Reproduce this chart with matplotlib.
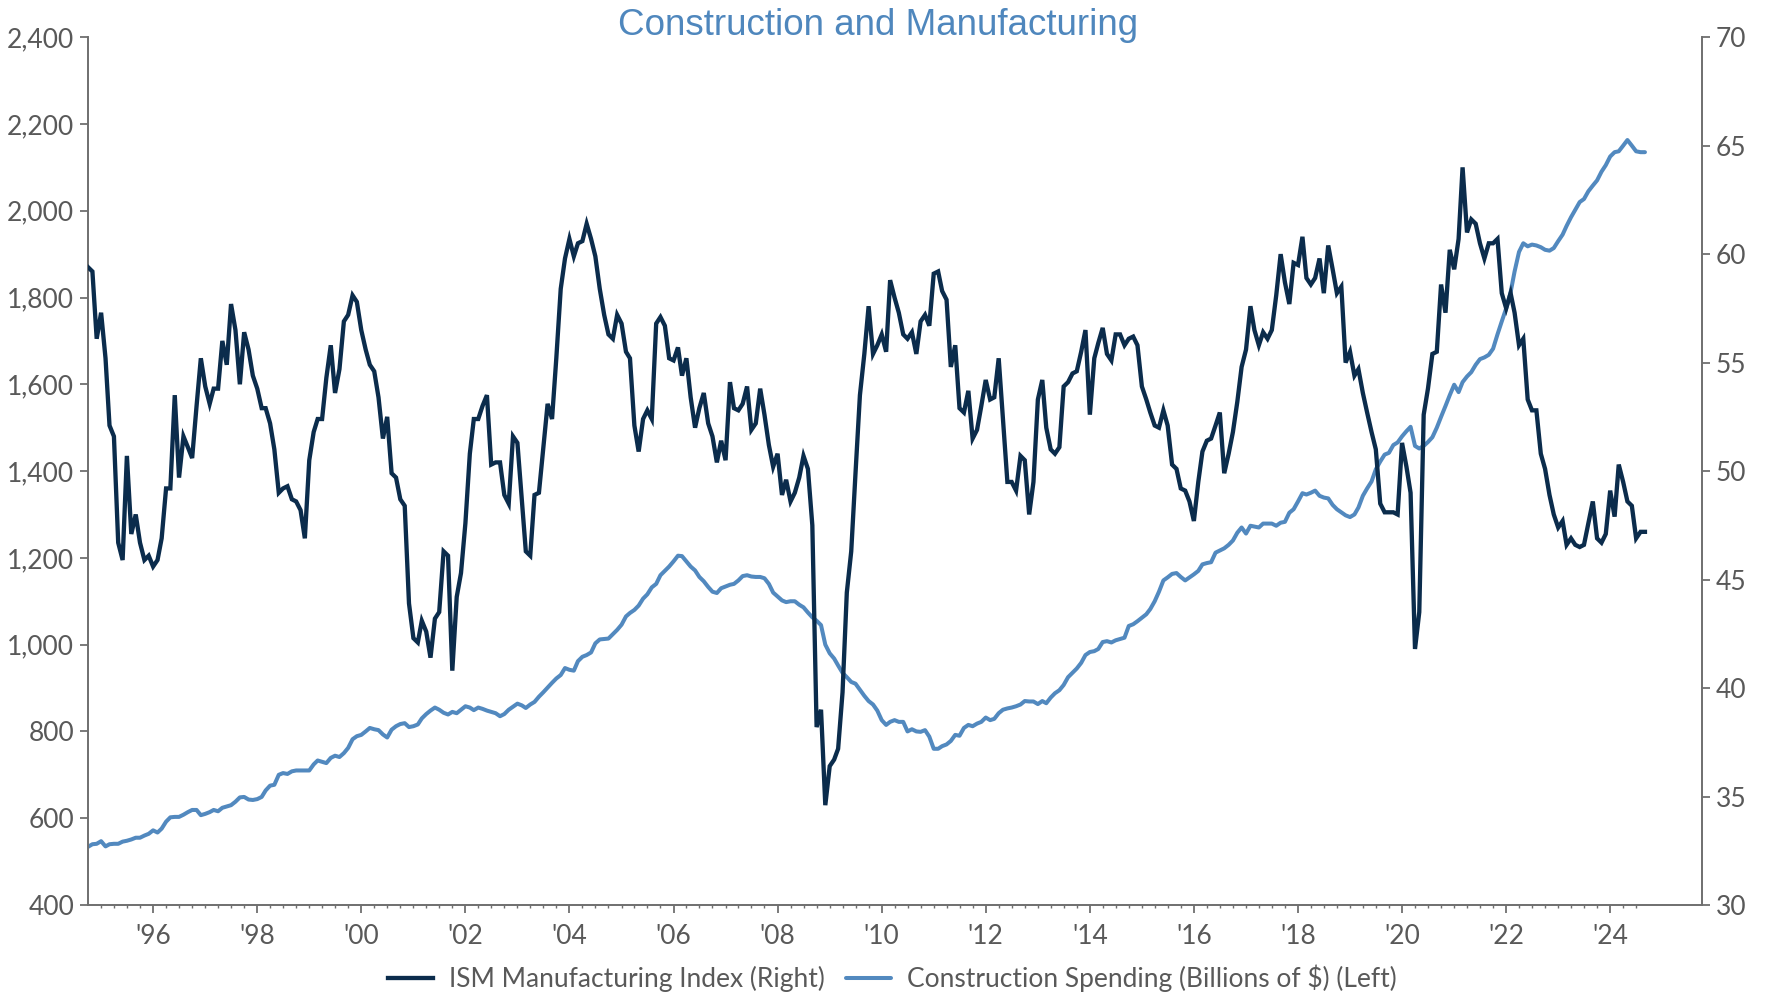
import matplotlib
matplotlib.use("Agg")
import matplotlib.pyplot as plt
import matplotlib.dates as mdates
from matplotlib.ticker import FuncFormatter, MultipleLocator, FixedLocator
import pandas as pd

plt.rcParams["font.family"] = ["Lato", "DejaVu Sans"]

# monthly series, first value = Oct 1994, last = Sep 2024
START_MONTH = "1994-10-01"

ism_index = [
    59.4, 59.2, 56.1,  # 1994 (Oct-Dec)
    57.3, 55.2, 52.1, 51.6, 46.7, 45.9, 50.7, 47.1, 48.0, 46.7, 45.9, 46.1,  # 1995
    45.6, 45.9, 46.9, 49.2, 49.2, 53.5, 49.7, 51.6, 51.1, 50.6, 53.0, 55.2,  # 1996
    53.9, 53.1, 53.8, 53.8, 56.0, 54.9, 57.7, 56.5, 54.0, 56.4, 55.6, 54.4,  # 1997
    53.8, 52.9, 52.9, 52.2, 51.0, 49.0, 49.2, 49.3, 48.7, 48.6, 48.2, 46.9,  # 1998
    50.5, 51.8, 52.4, 52.4, 54.3, 55.8, 53.6, 54.7, 56.9, 57.2, 58.1, 57.8,  # 1999
    56.5, 55.6, 54.9, 54.6, 53.4, 51.5, 52.5, 49.9, 49.7, 48.7, 48.4, 43.9,  # 2000
    42.3, 42.1, 43.1, 42.6, 41.4, 43.2, 43.5, 46.3, 46.1, 40.8, 44.2, 45.3,  # 2001
    47.6, 50.8, 52.4, 52.4, 53.0, 53.5, 50.3, 50.4, 50.4, 48.9, 48.5, 51.6,  # 2002
    51.3, 48.7, 46.3, 46.1, 48.9, 49.0, 51.0, 53.1, 52.4, 55.2, 58.4, 59.8,  # 2003
    60.7, 59.9, 60.5, 60.6, 61.4, 60.7, 59.9, 58.4, 57.2, 56.3, 56.1, 57.2,  # 2004
    56.8, 55.5, 55.2, 52.1, 50.9, 52.4, 52.8, 52.4, 56.8, 57.1, 56.7, 55.2,  # 2005
    55.1, 55.7, 54.4, 55.2, 53.4, 52.0, 52.9, 53.6, 52.2, 51.6, 50.4, 51.4,  # 2006
    50.5, 54.1, 52.9, 52.8, 53.1, 53.9, 51.9, 52.2, 53.8, 52.6, 51.2, 50.2,  # 2007
    50.8, 48.9, 49.6, 48.6, 49.0, 49.7, 50.7, 50.1, 47.5, 38.2, 39.0, 34.6,  # 2008
    36.4, 36.7, 37.2, 39.8, 44.4, 46.3, 49.9, 53.5, 55.4, 57.6, 55.4, 55.8,  # 2009
    56.3, 55.5, 58.8, 58.0, 57.3, 56.3, 56.1, 56.4, 55.4, 56.9, 57.2, 56.7,  # 2010
    59.1, 59.2, 58.3, 57.9, 54.8, 55.8, 52.9, 52.7, 53.7, 51.5, 51.9, 53.0,  # 2011
    54.2, 53.3, 53.4, 55.2, 52.4, 49.5, 49.5, 49.1, 50.7, 50.5, 48.0, 49.5,  # 2012
    53.3, 54.2, 52.0, 51.0, 50.8, 51.1, 53.9, 54.1, 54.5, 54.6, 55.5, 56.5,  # 2013
    52.6, 55.2, 55.9, 56.6, 55.4, 55.1, 56.3, 56.3, 55.8, 56.1, 56.2, 55.8,  # 2014
    53.9, 53.3, 52.7, 52.1, 52.0, 52.8, 52.1, 50.3, 50.1, 49.2, 49.1, 48.6,  # 2015
    47.7, 49.5, 50.9, 51.4, 51.5, 52.1, 52.7, 49.9, 50.8, 51.8, 53.2, 54.8,  # 2016
    55.6, 57.6, 56.5, 55.8, 56.4, 56.1, 56.5, 58.1, 60.0, 58.7, 57.7, 59.6,  # 2017
    59.5, 60.8, 58.9, 58.6, 58.9, 59.8, 58.2, 60.4, 59.3, 58.2, 58.5, 55.0,  # 2018
    55.5, 54.4, 54.7, 53.6, 52.7, 51.8, 51.0, 48.5, 48.1, 48.1, 48.1, 48.0,  # 2019
    51.3, 50.2, 49.0, 41.8, 43.5, 52.6, 53.8, 55.4, 55.5, 58.6, 57.3, 60.2,  # 2020
    59.3, 60.7, 64.0, 61.0, 61.6, 61.4, 60.5, 59.8, 60.5, 60.5, 60.7, 58.2,  # 2021
    57.5, 58.2, 57.3, 55.8, 56.1, 53.3, 52.8, 52.8, 50.8, 50.1, 48.9, 48.0,  # 2022
    47.4, 47.7, 46.6, 46.9, 46.6, 46.5, 46.6, 47.6, 48.6, 46.9, 46.7, 47.1,  # 2023
    49.1, 47.9, 50.3, 49.5, 48.6, 48.4, 46.9, 47.2, 47.2,  # 2024 (Jan-Sep)
]

construction = [
    534, 540, 541,  # 1994 (Oct-Dec)
    547, 535, 540, 541, 541, 546, 548, 551, 555, 555, 560, 564,  # 1995
    572, 567, 576, 592, 602, 603, 603, 608, 614, 619, 619, 607,  # 1996
    610, 614, 619, 616, 624, 627, 630, 638, 648, 649, 643, 642,  # 1997
    644, 649, 664, 675, 677, 700, 704, 702, 708, 710, 710, 710,  # 1998
    710, 724, 733, 730, 727, 739, 744, 741, 750, 762, 782, 789,  # 1999
    792, 800, 808, 805, 803, 793, 786, 804, 812, 817, 819, 810,  # 2000
    812, 816, 830, 840, 848, 855, 850, 843, 839, 845, 842, 850,  # 2001
    858, 855, 849, 855, 852, 848, 845, 842, 835, 840, 850, 857,  # 2002
    864, 860, 854, 862, 868, 880, 890, 901, 912, 922, 930, 946,  # 2003
    942, 940, 962, 972, 976, 982, 1003, 1012, 1013, 1014, 1024, 1034,  # 2004
    1046, 1065, 1073, 1080, 1090, 1106, 1116, 1132, 1140, 1160, 1170, 1180,  # 2005
    1192, 1205, 1204, 1192, 1180, 1171, 1156, 1146, 1133, 1122, 1119, 1130,  # 2006
    1134, 1138, 1140, 1148, 1158, 1160, 1157, 1156, 1156, 1153, 1140, 1120,  # 2007
    1111, 1102, 1098, 1100, 1100, 1092, 1086, 1074, 1063, 1055, 1045, 1000,  # 2008
    980, 968, 952, 935, 925, 914, 910, 896, 882, 870, 862, 848,  # 2009
    826, 815, 822, 826, 822, 822, 800, 805, 800, 799, 803, 788,  # 2010
    760, 760, 766, 770, 778, 792, 790, 808, 815, 812, 818, 822,  # 2011
    832, 826, 829, 842, 850, 853, 855, 858, 862, 870, 869, 869,  # 2012
    863, 870, 865, 878, 888, 895, 907, 925, 935, 945, 958, 976,  # 2013
    983, 985, 990, 1006, 1008, 1005, 1010, 1013, 1016, 1043, 1047, 1054,  # 2014
    1062, 1070, 1082, 1100, 1122, 1148, 1155, 1163, 1165, 1156, 1148, 1155,  # 2015
    1162, 1170, 1185, 1188, 1190, 1212, 1217, 1222, 1230, 1240, 1258, 1270,  # 2016
    1256, 1274, 1272, 1270, 1279, 1279, 1279, 1274, 1281, 1283, 1304, 1312,  # 2017
    1330, 1349, 1346, 1350, 1355, 1343, 1339, 1337, 1322, 1312, 1305, 1298,  # 2018
    1294, 1300, 1316, 1343, 1360, 1376, 1404, 1422, 1438, 1442, 1460, 1466,  # 2019
    1480, 1492, 1502, 1458, 1452, 1458, 1467, 1478, 1500, 1525, 1550, 1575,  # 2020
    1599, 1582, 1605, 1618, 1628, 1645, 1658, 1662, 1668, 1682, 1715, 1745,  # 2021
    1775, 1812, 1860, 1905, 1925, 1918, 1922, 1920, 1916, 1910, 1908, 1914,  # 2022
    1930, 1945, 1965, 1985, 2002, 2020, 2027, 2045, 2058, 2070, 2090, 2105,  # 2023
    2125, 2135, 2137, 2150, 2163, 2150, 2137, 2135, 2135,  # 2024 (Jan-Sep)
]

NAVY = "#0b2c4c"
BLUE = "#5289bf"
TITLE_COLOR = "#4f87bd"
TEXT_COLOR = "#595959"
SPINE_COLOR = "#6f6f6f"

months = pd.date_range(START_MONTH, periods=len(ism_index), freq="MS")

fig = plt.figure(figsize=(17.67, 9.97), dpi=100)
ax = fig.add_axes([0.0498, 0.0923, 0.9133, 0.8704])
ax2 = ax.twinx()

con_line, = ax.plot(months, construction, color=BLUE, lw=2.9, solid_capstyle="round")
ism_line, = ax2.plot(months, ism_index, color=NAVY, lw=3.1, solid_joinstyle="miter")

ax.set_ylim(400, 2400)
ax2.set_ylim(30, 70)
ax.set_xlim(pd.Timestamp("1994-10-01"), pd.Timestamp("2025-10-05"))

# spines: left + bottom on ax, right on ax2
for side in ["top", "right"]:
    ax.spines[side].set_visible(False)
for side in ["top", "left", "bottom"]:
    ax2.spines[side].set_visible(False)
for sp in [ax.spines["left"], ax.spines["bottom"], ax2.spines["right"]]:
    sp.set_color(SPINE_COLOR)
    sp.set_linewidth(1.4)

ax.yaxis.set_major_locator(MultipleLocator(200))
ax.yaxis.set_major_formatter(FuncFormatter(lambda v, p: f"{v:,.0f}"))
ax2.yaxis.set_major_locator(MultipleLocator(5))

ax.xaxis.set_major_locator(mdates.YearLocator(2))
ax.xaxis.set_major_formatter(mdates.DateFormatter("'%y"))
quarters = pd.date_range("1995-01-01", "2024-07-01", freq="QS")
ax.xaxis.set_minor_locator(FixedLocator(mdates.date2num(quarters)))

ax.tick_params(axis="y", direction="out", length=6, width=1.3, color=SPINE_COLOR,
               labelsize=19, labelcolor=TEXT_COLOR, pad=4)
ax2.tick_params(axis="y", direction="out", length=6, width=1.3, color=SPINE_COLOR,
                labelsize=19, labelcolor=TEXT_COLOR, pad=4)
ax.tick_params(axis="x", which="major", direction="out", length=6, width=1.3,
               color=SPINE_COLOR, labelsize=19, labelcolor=TEXT_COLOR, pad=8)
ax.tick_params(axis="x", which="minor", direction="out", length=2.5, width=1.0,
               color=SPINE_COLOR)

fig.text(0.497, 0.974, "Construction and Manufacturing", ha="center", va="center",
         fontsize=26.5, color=TITLE_COLOR, family=["Liberation Sans", "DejaVu Sans"])

fig.legend(
    handles=[ism_line, con_line],
    labels=["ISM Manufacturing Index (Right)", "Construction Spending (Billions of $) (Left)"],
    loc="center",
    bbox_to_anchor=(0.505, 0.019),
    ncol=2,
    frameon=False,
    fontsize=19,
    labelcolor=TEXT_COLOR,
    handlelength=1.7,
    handletextpad=0.6,
    columnspacing=0.8,
)

fig.savefig("out.png", dpi=100)
